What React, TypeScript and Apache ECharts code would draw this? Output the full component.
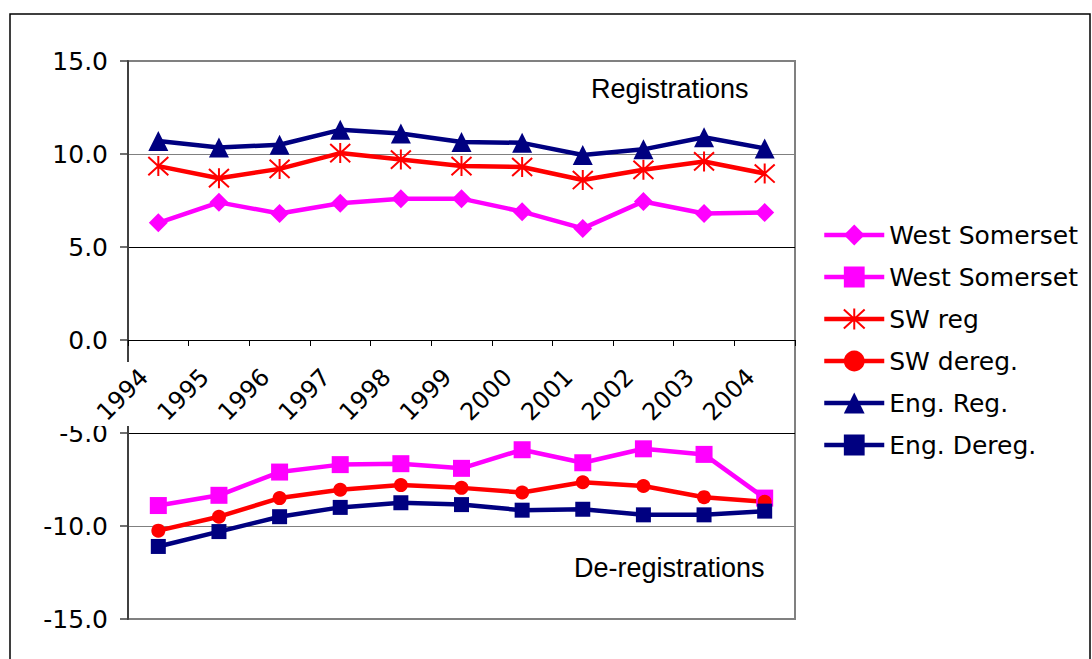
import React, { useEffect, useRef } from "react";
import * as echarts from "echarts";

const years = ["1994", "1995", "1996", "1997", "1998", "1999", "2000", "2001", "2002", "2003", "2004"];
const wsReg = [6.3, 7.4, 6.8, 7.35, 7.6, 7.6, 6.9, 6.0, 7.45, 6.8, 6.85];
const wsDereg = [-8.9, -8.35, -7.1, -6.7, -6.65, -6.9, -5.9, -6.6, -5.85, -6.15, -8.5];
const swReg = [9.35, 8.7, 9.2, 10.05, 9.7, 9.35, 9.3, 8.6, 9.15, 9.6, 8.95];
const swDereg = [-10.25, -9.5, -8.5, -8.05, -7.8, -7.95, -8.2, -7.65, -7.85, -8.45, -8.7];
const engReg = [10.7, 10.35, 10.5, 11.3, 11.1, 10.65, 10.6, 9.95, 10.25, 10.9, 10.3];
const engDereg = [-11.1, -10.3, -9.5, -9.0, -8.75, -8.85, -9.15, -9.1, -9.4, -9.4, -9.2];

const legendNames = ["West Somerset", "West Somerset", "SW reg", "SW dereg.", "Eng. Reg.", "Eng. Dereg."];
const yTicks = { min: -15, max: 15, interval: 5 };

const FONT = '"DejaVu Sans", sans-serif';
const ASTERISK = "path://M0,0L20,20M20,0L0,20M10,-1L10,21";

export default function App() {
  const ref = useRef<HTMLDivElement>(null);
  useEffect(() => {
    if (!ref.current) return;
    const chart = echarts.init(ref.current, undefined, { renderer: "svg" });
    const mk = (id: string, name: string, data: number[], color: string, symbol: string, size: number, extra: any = {}) => ({
      id,
      name,
      type: "line",
      data,
      symbol,
      symbolSize: size,
      showSymbol: true,
      lineStyle: { color, width: 4.5 },
      itemStyle: { color, borderColor: color, borderWidth: extra.borderWidth ?? 0, opacity: 1 },
      emphasis: { disabled: true },
    });
    const gridHeight = 558;
    const option: any = {
      animation: false,
      backgroundColor: "#ffffff",
      grid: {
        left: 128,
        top: 61,
        width: 667,
        height: gridHeight,
        containLabel: false,
        outerBoundsMode: "none",
        show: true,
        borderColor: "#808080",
        borderWidth: 2,
        backgroundColor: "transparent",
      },
      legend: {
        orient: "vertical",
        left: 817,
        top: 217,
        itemWidth: 60,
        itemHeight: 26,
        itemGap: 16,
        selectedMode: false,
        data: ["wsReg", "wsDereg", "SW reg", "SW dereg.", "Eng. Reg.", "Eng. Dereg."],
        formatter: (n: string) => (n.startsWith("ws") ? legendNames[0] : n),
        lineStyle: { width: 4.5 },
        textStyle: { fontFamily: FONT, fontSize: 25, color: "#000", lineHeight: 26 },
      },
      xAxis: {
        type: "category",
        data: years,
        boundaryGap: true,
        z: 5,
        offset: -gridHeight / 2,
        axisLine: { onZero: false, lineStyle: { color: "#000", width: 1 } },
        axisTick: { show: true, length: 6, alignWithLabel: false, lineStyle: { color: "#000", width: 1 } },
        axisLabel: {
          interval: 0,
          rotate: 45,
          margin: 19,
          padding: [0, 20, 0, 0],
          fontFamily: FONT,
          fontSize: 24,
          color: "#000",
        },
        splitLine: { show: false },
      },
      yAxis: {
        type: "value",
        min: yTicks.min,
        max: yTicks.max,
        interval: yTicks.interval,
        z: 0,
        axisLine: { show: true, lineStyle: { color: "#404040", width: 2 } },
        axisTick: { show: true, length: 8, lineStyle: { color: "#404040", width: 1.5 } },
        axisLabel: {
          margin: 20,
          fontFamily: FONT,
          fontSize: 25,
          color: "#000",
          formatter: (v: number) => v.toFixed(1),
        },
        splitLine: {
          show: true,
          lineStyle: {
            color: ["#808080", "#808080", "#000000", "#000000", "#000000", "#808080", "#808080"],
            width: 1,
          },
        },
      },
      graphic: [
        {
          type: "rect",
          z: 0,
          silent: true,
          shape: { x: 10, y: 14, width: 1080, height: 700 },
          style: { fill: "none", stroke: "#000", lineWidth: 1.5 },
        },
        {
          type: "rect",
          z: 1,
          silent: true,
          shape: { x: 40, y: 362, width: 750, height: 64 },
          style: { fill: "#ffffff" },
        },
        {
          type: "text",
          z: 3,
          left: 591,
          top: 75,
          style: { text: "Registrations", font: '27px "Liberation Sans", Arial, sans-serif', fill: "#000" },
        },
        {
          type: "text",
          z: 3,
          left: 574,
          top: 554,
          style: { text: "De-registrations", font: '27px "Liberation Sans", Arial, sans-serif', fill: "#000" },
        },
      ],
      series: [
        mk("a", "wsReg", wsReg, "#FF00FF", "diamond", 19),
        mk("b", "wsDereg", wsDereg, "#FF00FF", "rect", 17),
        mk("c", "SW reg", swReg, "#FF0000", ASTERISK, 20, { borderWidth: 2 }),
        mk("d", "SW dereg.", swDereg, "#FF0000", "circle", 14),
        mk("e", "Eng. Reg.", engReg, "#000080", "triangle", 20),
        mk("f", "Eng. Dereg.", engDereg, "#000080", "rect", 15),
      ],
    };
    chart.setOption(option);
    return () => chart.dispose();
  }, []);
  return (
    <div
      ref={ref}
      style={{ position: "fixed", left: 0, top: 0, width: 1092, height: 659, background: "#fff" }}
    />
  );
}
